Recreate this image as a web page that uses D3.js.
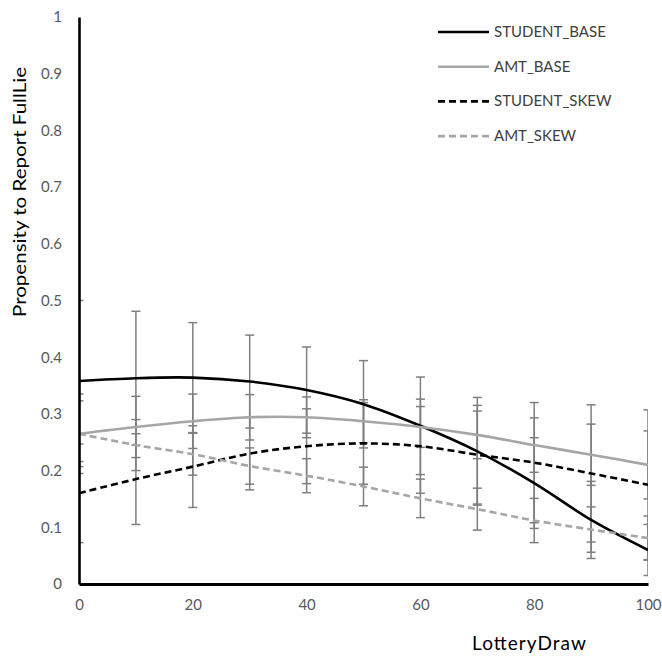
<!DOCTYPE html>
<html>
<head>
<meta charset="utf-8">
<script src="https://cdn.jsdelivr.net/npm/d3@7"></script>
<style>
  body { margin: 0; background: #fff; }
  text { font-family: Lato, "Open Sans", sans-serif; }
</style>
</head>
<body>
<div id="chart"></div>
<script>

var draws = [0, 10, 20, 30, 40, 50, 60, 70, 80, 90, 100];

var studentBase = [0.358, 0.363, 0.364, 0.357, 0.342, 0.317, 0.279, 0.234, 0.178, 0.113, 0.060];
var amtBase     = [0.265, 0.277, 0.287, 0.294, 0.294, 0.287, 0.277, 0.263, 0.245, 0.228, 0.210];
var studentSkew = [0.160, 0.185, 0.207, 0.230, 0.243, 0.248, 0.243, 0.228, 0.214, 0.195, 0.175];
var amtSkew     = [0.265, 0.245, 0.229, 0.208, 0.191, 0.172, 0.151, 0.132, 0.112, 0.096, 0.081];

// half widths of the error bars
var studentBaseErr = [0.142, 0.118, 0.097, 0.082, 0.076, 0.077, 0.086, 0.095, 0.080, 0.068, 0.045];
var amtBaseErr     = [0.058, 0.054, 0.048, 0.040, 0.036, 0.038, 0.036, 0.042, 0.048, 0.054, 0.060];
var studentSkewErr = [0.087, 0.080, 0.072, 0.064, 0.066, 0.072, 0.083, 0.087, 0.106, 0.121, 0.132];
var amtSkewErr     = [0.070, 0.045, 0.037, 0.032, 0.030, 0.034, 0.034, 0.037, 0.039, 0.040, 0.039];

var seriesNames = ["STUDENT_BASE", "AMT_BASE", "STUDENT_SKEW", "AMT_SKEW"];
var yTicks = [0, 0.1, 0.2, 0.3, 0.4, 0.5, 0.6, 0.7, 0.8, 0.9, 1];
var xTicks = [0, 20, 40, 60, 80, 100];

var series = [
  { name: seriesNames[0], values: studentBase, err: studentBaseErr, color: "#000000", dash: null },
  { name: seriesNames[1], values: amtBase, err: amtBaseErr, color: "#a6a6a6", dash: null },
  { name: seriesNames[2], values: studentSkew, err: studentSkewErr, color: "#000000", dash: "7,4" },
  { name: seriesNames[3], values: amtSkew, err: amtSkewErr, color: "#a6a6a6", dash: "7,4" }
];

var width = 662;
var height = 660;
var margin = { left: 79, right: 14, top: 17, bottom: 76 };

var svg = d3.select("#chart")
  .append("svg")
  .attr("width", width)
  .attr("height", height);

var x = d3.scaleLinear().domain([0, 100]).range([margin.left, width - margin.right]);
var y = d3.scaleLinear().domain([0, 1]).range([height - margin.bottom, margin.top]);

svg.append("clipPath")
  .attr("id", "plotClip")
  .append("rect")
  .attr("x", x(0))
  .attr("y", y(1))
  .attr("width", x(100) - x(0))
  .attr("height", y(0) - y(1));

var plot = svg.append("g").attr("clip-path", "url(#plotClip)");

/* error bars */
series.forEach(function (s) {
  var g = plot.append("g").attr("stroke", "#7f7f7f").attr("stroke-width", 1.5);
  draws.forEach(function (d, i) {
    var lo = s.values[i] - s.err[i];
    var hi = s.values[i] + s.err[i];
    g.append("line")
      .attr("x1", x(d)).attr("x2", x(d))
      .attr("y1", y(lo)).attr("y2", y(hi));
    [lo, hi].forEach(function (v) {
      g.append("line")
        .attr("x1", x(d) - 4.5).attr("x2", x(d) + 4.5)
        .attr("y1", y(v)).attr("y2", y(v));
    });
  });
});

/* series lines */
var line = d3.line()
  .x((d, i) => x(draws[i]))
  .y((d) => y(d))
  .curve(d3.curveCatmullRom.alpha(0.5));

series.forEach(function (s) {
  plot.append("path")
    .attr("d", line(s.values))
    .attr("fill", "none")
    .attr("stroke", s.color)
    .attr("stroke-width", 2.6)
    .attr("stroke-dasharray", s.dash);
});

/* axes */
var yAxis = svg.append("g")
  .attr("transform", "translate(" + x(0) + ",0)")
  .call(d3.axisLeft(y).tickValues(yTicks).tickSize(0).tickPadding(17).tickFormat(d3.format("~g")));
yAxis.select(".domain").attr("stroke", "#000").attr("stroke-width", 2.6);
yAxis.selectAll("text").attr("fill", "#595959").attr("font-size", 15);

var xAxis = svg.append("g")
  .attr("transform", "translate(0," + y(0) + ")")
  .call(d3.axisBottom(x).tickValues(xTicks).tickSize(0).tickPadding(15));
xAxis.select(".domain").attr("stroke", "#000").attr("stroke-width", 3);
xAxis.selectAll("text").attr("fill", "#595959").attr("font-size", 15);

svg.append("text")
  .attr("x", 529)
  .attr("y", 650)
  .attr("text-anchor", "middle")
  .attr("font-size", 19)
  .attr("fill", "#000")
  .attr("textLength", 114)
  .attr("lengthAdjust", "spacing")
  .text("LotteryDraw");

svg.append("text")
  .attr("transform", "translate(26,192) rotate(-90)")
  .attr("text-anchor", "middle")
  .attr("font-size", 18)
  .attr("fill", "#000")
  .attr("textLength", 250)
  .attr("lengthAdjust", "spacingAndGlyphs")
  .text("Propensity to Report FullLie");

/* legend */
var legend = svg.append("g")
  .selectAll("g")
  .data(series)
  .enter()
  .append("g")
  .attr("transform", (d, i) => "translate(438," + (32 + i * 34.7) + ")");

legend.append("line")
  .attr("x1", 0).attr("x2", 51)
  .attr("y1", 0).attr("y2", 0)
  .attr("stroke", (d) => d.color)
  .attr("stroke-width", 2.6)
  .attr("stroke-dasharray", (d) => d.dash);

legend.append("text")
  .attr("x", 56)
  .attr("y", 5)
  .attr("font-size", 15)
  .attr("fill", "#404040")
  .text((d) => d.name);

</script>
</body>
</html>
